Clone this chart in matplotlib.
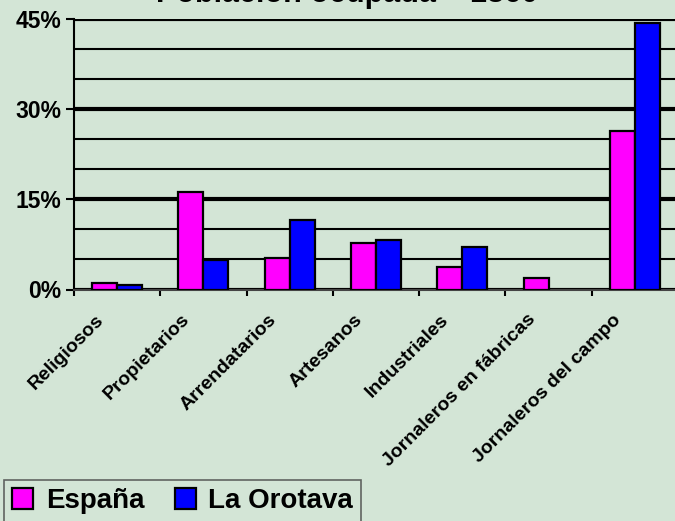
import numpy as np
import matplotlib
matplotlib.use('Agg')
import matplotlib.pyplot as plt
from matplotlib.ticker import MultipleLocator, FixedLocator
from matplotlib.transforms import ScaledTranslation

# datos (% de poblacion ocupada)
categorias = ['Religiosos', 'Propietarios', 'Arrendatarios', 'Artesanos',
              'Industriales', 'Jornaleros en fábricas', 'Jornaleros del campo']
espana = [1.0, 16.2, 5.2, 7.7, 3.8, 1.9, 26.3]
orotava = [0.7, 4.9, 11.6, 8.3, 7.1, 0.0, 44.3]
yticks = [0, 15, 30, 45]
ytick_labels = ['0%', '15%', '30%', '45%']
titulo = 'Población ocupada – 1860'

fondo = '#D3E5D6'
plt.rcParams['font.family'] = ['Liberation Sans', 'DejaVu Sans']
plt.rcParams['font.weight'] = 'bold'

fig = plt.figure(figsize=(6.75, 5.21), dpi=100, facecolor=fondo)
ax = fig.add_axes([74/675, 231.5/521, 604/675, 271/521])
ax.set_facecolor(fondo)

x = np.arange(len(categorias))
w = 0.29
bordes_e = ['black' if v > 0 else 'none' for v in espana]
bordes_o = ['black' if v > 0 else 'none' for v in orotava]
ax.bar(x - w/2, espana, w, color='#FF00FF', edgecolor=bordes_e, linewidth=1.6, zorder=3, label='España')
ax.bar(x + w/2, orotava, w, color='#0000FF', edgecolor=bordes_o, linewidth=1.6, zorder=3, label='La Orotava')

ax.set_xlim(-0.5, len(categorias) - 0.5)
ax.set_ylim(0, 45)

# lineas de division
ax.yaxis.set_major_locator(FixedLocator(yticks))
ax.set_yticklabels(ytick_labels, fontsize=16.5, fontweight='bold')
ax.yaxis.set_minor_locator(MultipleLocator(5))
ax.grid(axis='y', which='minor', color='black', linewidth=1.5, zorder=1)
ax.grid(axis='y', which='major', color='black', linewidth=3, zorder=2)
ax.tick_params(axis='y', which='major', length=6, width=1.5, pad=3)
ax.tick_params(axis='y', which='minor', length=0)

ax.set_xticks(x)
ax.set_xticks(np.arange(len(categorias) + 1) - 0.5, minor=True)
ax.set_xticklabels(categorias, rotation=45, ha='right', va='top',
                   rotation_mode='anchor', fontsize=14, fontweight='bold')
ax.tick_params(axis='x', which='major', length=0, pad=17)
ax.tick_params(axis='x', which='minor', length=4, width=1.5, direction='out')
desp = ScaledTranslation(-0.22, 0.02, fig.dpi_scale_trans)
for lab in ax.get_xticklabels():
    lab.set_transform(lab.get_transform() + desp)

for s in ['top', 'right']:
    ax.spines[s].set_visible(False)
ax.spines['left'].set_linewidth(1.5)
ax.spines['bottom'].set_linewidth(1.5)
ax.spines['bottom'].set_color('#444444')

fig.text(0.514, 1 - 2/521, titulo, ha='center', va='baseline', fontsize=22, fontweight='bold')

leg = fig.legend(loc='lower left', bbox_to_anchor=(4/675, -0.003), ncol=2,
                 prop={'weight': 'bold', 'size': 20}, frameon=True, fancybox=False,
                 handlelength=0.75, handleheight=0.75, handletextpad=0.45, columnspacing=1.1,
                 borderpad=0.3, borderaxespad=0)
leg.get_frame().set_facecolor(fondo)
leg.get_frame().set_edgecolor('#444444')
leg.get_frame().set_linewidth(1.2)

plt.savefig('out.png', dpi=100, facecolor=fondo)
